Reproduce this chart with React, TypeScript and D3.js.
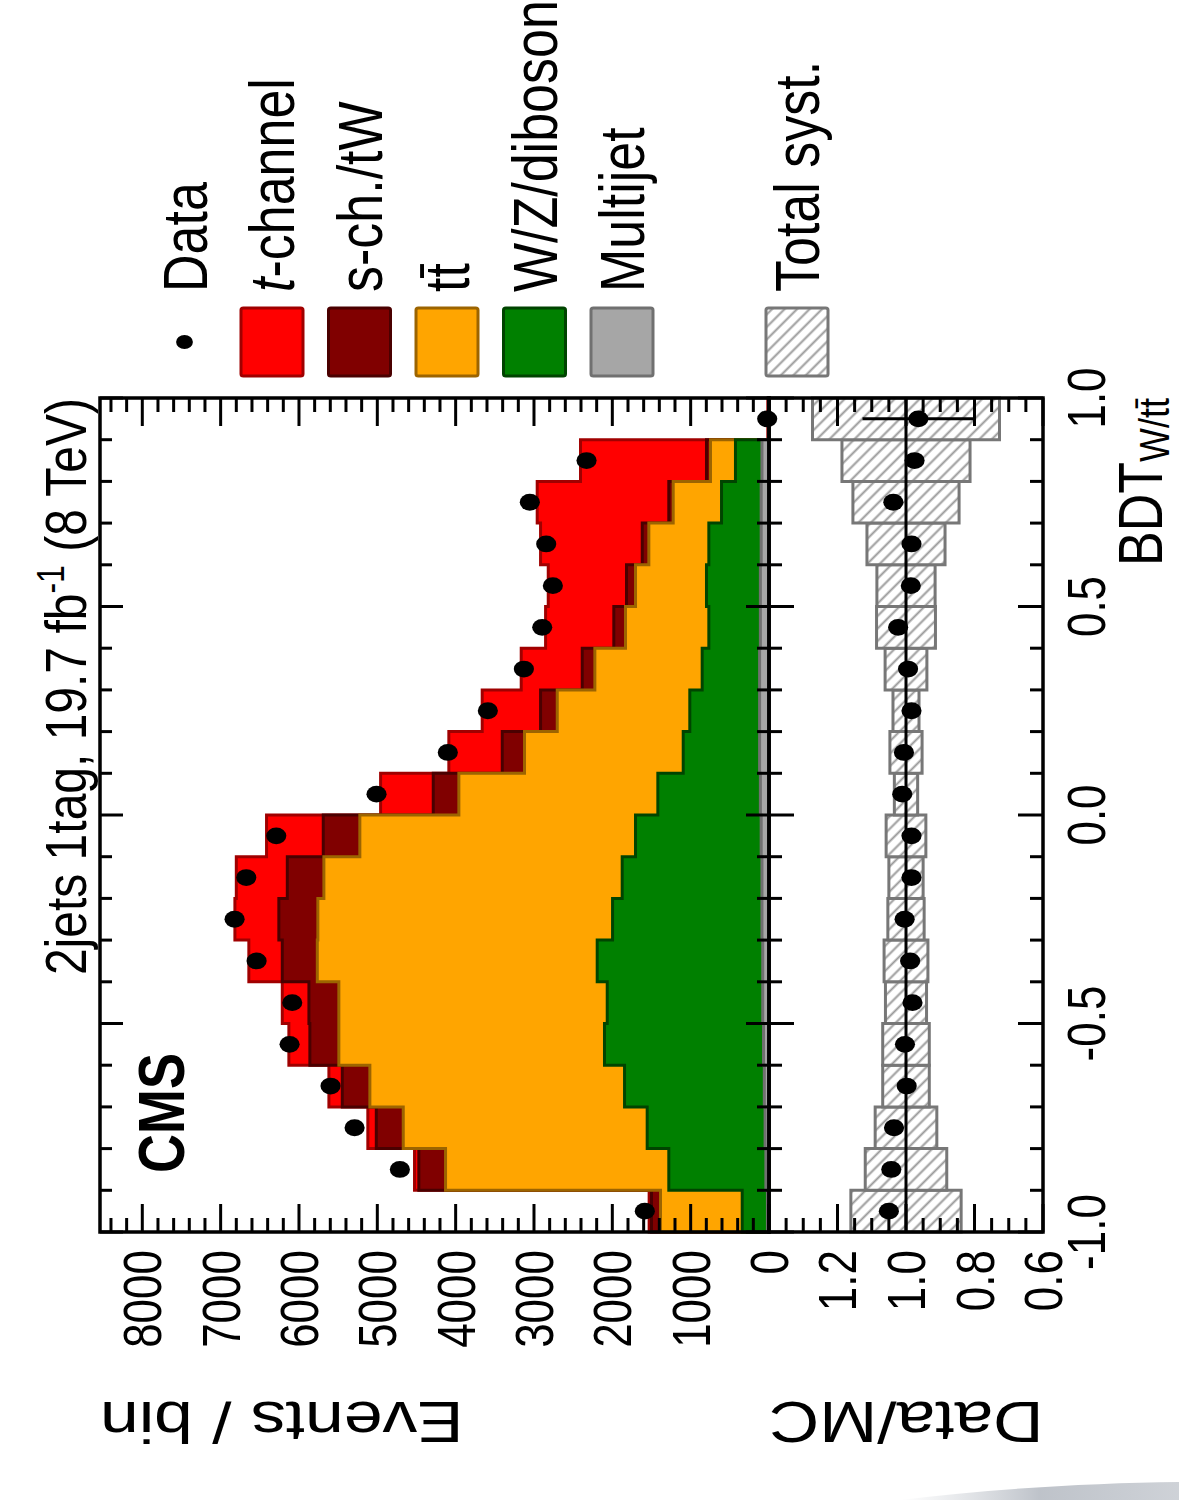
import * as d3 from "d3";

// the figure is drawn as the original (unrotated) plot, then turned -90deg.
// the picture is also stretched ~1.2x across the page width
const SX = 1.2;

const bdtEdges = d3.range(21).map((i) => -1 + i * 0.1);

// events / bin, from BDT = -1.0 up to 1.0
const dataEvents = [1585, 4712, 5290, 5597, 6120, 6086, 6541, 6822, 6673, 6290, 5010, 4100, 3589, 3129, 2895, 2759, 2844, 3053, 2329, 23];
const tChannel = [30, 55, 108, 171, 268, 340, 427, 561, 651, 724, 672, 682, 745, 779, 871, 999, 1298, 1680, 1608, 9];
const sChTW = [115, 341, 344, 352, 370, 382, 447, 498, 467, 467, 327, 284, 213, 161, 149, 115, 84, 56, 51, 2];
const ttbar = [1043, 2850, 3114, 3251, 3391, 3426, 3573, 3762, 3808, 3519, 2540, 2026, 1692, 1370, 1064, 906, 766, 617, 319, 2];
const wzDiboson = [322, 1239, 1505, 1784, 2030, 1985, 2113, 1907, 1784, 1604, 1309, 975, 891, 733, 658, 688, 668, 506, 338, 1];
const multijet = [20, 40, 50, 60, 70, 80, 80, 90, 90, 100, 110, 120, 120, 120, 110, 110, 100, 100, 90, 1];

// Data/MC panel
const ratio = [1.05, 1.043, 1.035, 0.998, 1.003, 0.981, 0.988, 1.004, 0.984, 0.984, 1.011, 1.006, 0.984, 0.994, 1.023, 0.986, 0.984, 1.037, 0.975, 0.964];
const ratioErr = [0.026, 0.015, 0.014, 0.013, 0.013, 0.013, 0.012, 0.012, 0.012, 0.013, 0.014, 0.016, 0.017, 0.018, 0.019, 0.019, 0.019, 0.018, 0.021, 0.163];
const systErr = [0.161, 0.119, 0.09, 0.068, 0.068, 0.06, 0.064, 0.053, 0.05, 0.058, 0.034, 0.047, 0.038, 0.061, 0.086, 0.085, 0.114, 0.155, 0.187, 0.273];

const eventTicks = [0, 1000, 2000, 3000, 4000, 5000, 6000, 7000, 8000];
const ratioTicks = [0.6, 0.8, 1.0, 1.2];
const bdtTicks = [-1, -0.5, 0, 0.5, 1];
const bdtTickLabels = ["-1.0", "-0.5", "0.0", "0.5", "1.0"];

const stackKeys = ["multijet", "wz", "ttbar", "sch", "tch"];
const colors: Record<string, { fill: string; stroke: string }> = {
  tch: { fill: "#ff0000", stroke: "#a00000" },
  sch: { fill: "#800000", stroke: "#4a0000" },
  ttbar: { fill: "#ffa500", stroke: "#9c6400" },
  wz: { fill: "#008000", stroke: "#004400" },
  multijet: { fill: "#a6a6a6", stroke: "#707070" },
};

const FONT = "'Liberation Sans', Arial, Helvetica, sans-serif";
const NS = "non-scaling-stroke";

const App = () => {
  // u: along the BDT axis, v: along the events axis (before rotation)
  const u = d3.scaleLinear().domain([-1, 1]).range([268, 1102]);
  const vEv = d3.scaleLinear().domain([0, 8540]).range([769 / SX, 100 / SX]);
  const vRat = d3.scaleLinear().domain([0.6, 1.4]).range([1043 / SX, 769 / SX]);

  const table = tChannel.map((_, i) => ({
    multijet: multijet[i],
    wz: wzDiboson[i],
    ttbar: ttbar[i],
    sch: sChTW[i],
    tch: tChannel[i],
  }));
  const series = d3.stack<any>().keys(stackKeys)(table);

  const area = d3
    .area<any>()
    .x((_, i) => u(bdtEdges[i]))
    .y0(vEv(0))
    .y1((d) => vEv(d[1]))
    .curve(d3.curveStepAfter);

  const bdtMinor = d3.range(21).map((i) => -1 + i * 0.1);
  const isBdtMajor = (b: number) => Math.abs(b * 2 - Math.round(b * 2)) < 1e-6;
  const evMinor = d3.range(0, 8541, 200);
  const ratMinor = d3.range(17).map((i) => 0.6 + i * 0.05);
  const isRatMajor = (r: number) => Math.abs((r - 0.6) / 0.2 - Math.round((r - 0.6) / 0.2)) < 1e-6;

  const tick = { stroke: "#000", strokeWidth: 3, vectorEffect: NS } as any;

  const legendRows = [184.5, 272, 359.5, 447, 534.5, 622, 797];

  return (
    <svg
      width={1179}
      height={1500}
      style={{ position: "absolute", left: 0, top: 0, background: "#fff" }}
      fontFamily={FONT}
    >
      <defs>
        <pattern
          id="hatch"
          patternUnits="userSpaceOnUse"
          width={8}
          height={8}
          patternTransform="rotate(39.8)"
        >
          <rect width={8} height={8} fill="#fff" />
          <line x1={0} y1={4} x2={8} y2={4} stroke="#9a9a9a" strokeWidth={1.8} vectorEffect={NS} />
        </pattern>
        <linearGradient id="curl" x1="0" x2="1" y1="0" y2="0">
          <stop offset="0" stopColor="#c4c9d0" stopOpacity={0} />
          <stop offset="0.5" stopColor="#b7bcc4" stopOpacity={0.9} />
          <stop offset="1" stopColor="#c9cdd3" stopOpacity={0.9} />
        </linearGradient>
      </defs>

      <g transform={`translate(0,1500) rotate(-90) scale(1,${SX})`}>
        {/* stacked histograms, outermost first */}
        {series
          .slice()
          .reverse()
          .map((s) => (
            <path
              key={s.key}
              d={area([...s, s[s.length - 1]]) || ""}
              fill={colors[s.key].fill}
              stroke={colors[s.key].stroke}
              strokeWidth={3}
              vectorEffect={NS}
            />
          ))}

        {/* data */}
        {dataEvents.map((d, i) => (
          <circle key={i} cx={u(bdtEdges[i] + 0.05)} cy={vEv(d)} r={8.4} fill="#000" />
        ))}

        {/* systematic band in ratio panel */}
        {systErr.map((e, i) => (
          <rect
            key={i}
            x={u(bdtEdges[i])}
            width={u(bdtEdges[i + 1]) - u(bdtEdges[i])}
            y={vRat(1 + e)}
            height={vRat(1 - e) - vRat(1 + e)}
            fill="url(#hatch)"
            stroke="#777"
            strokeWidth={3}
            vectorEffect={NS}
          />
        ))}
        <line x1={u(-1)} x2={u(1)} y1={vRat(1)} y2={vRat(1)} stroke="#000" strokeWidth={3} vectorEffect={NS} />
        {ratio.map((r, i) => (
          <g key={i}>
            <line
              x1={u(bdtEdges[i] + 0.05)}
              x2={u(bdtEdges[i] + 0.05)}
              y1={vRat(r - ratioErr[i])}
              y2={vRat(r + ratioErr[i])}
              stroke="#000"
              strokeWidth={3}
              vectorEffect={NS}
            />
            <circle cx={u(bdtEdges[i] + 0.05)} cy={vRat(r)} r={8.4} fill="#000" />
          </g>
        ))}

        {/* ticks: upper panel */}
        {evMinor.map((t) => {
          const len = t % 1000 === 0 ? 28 : 14;
          return (
            <g key={"ev" + t}>
              <line x1={u(-1)} x2={u(-1) + len} y1={vEv(t)} y2={vEv(t)} {...tick} />
              <line x1={u(1)} x2={u(1) - len} y1={vEv(t)} y2={vEv(t)} {...tick} />
            </g>
          );
        })}
        {bdtMinor.map((b) => {
          const len = (isBdtMajor(b) ? 23 : 12) / SX;
          const len2 = (isBdtMajor(b) ? 25 : 13) / SX;
          return (
            <g key={"bdt" + b}>
              <line x1={u(b)} x2={u(b)} y1={vEv(8540)} y2={vEv(8540) + len} {...tick} />
              <line x1={u(b)} x2={u(b)} y1={vEv(0)} y2={vEv(0) - len} {...tick} />
              <line x1={u(b)} x2={u(b)} y1={vRat(1.4)} y2={vRat(1.4) + len2} {...tick} />
              <line x1={u(b)} x2={u(b)} y1={vRat(0.6)} y2={vRat(0.6) - len2} {...tick} />
            </g>
          );
        })}
        {ratMinor.map((r) => {
          const len = isRatMajor(r) ? 28 : 14;
          return (
            <g key={"rat" + r}>
              <line x1={u(-1)} x2={u(-1) + len} y1={vRat(r)} y2={vRat(r)} {...tick} />
              <line x1={u(1)} x2={u(1) - len} y1={vRat(r)} y2={vRat(r)} {...tick} />
            </g>
          );
        })}

        {/* frames */}
        <rect
          x={u(-1)}
          y={vEv(8540)}
          width={u(1) - u(-1)}
          height={vEv(0) - vEv(8540)}
          fill="none"
          stroke="#000"
          strokeWidth={3.5}
          vectorEffect={NS}
        />
        <rect
          x={u(-1)}
          y={vRat(1.4)}
          width={u(1) - u(-1)}
          height={vRat(0.6) - vRat(1.4)}
          fill="none"
          stroke="#000"
          strokeWidth={3.5}
          vectorEffect={NS}
        />

        {/* tick labels */}
        {eventTicks.map((t) => (
          <text key={"evl" + t} x={250} y={vEv(t)} dy="0.36em" textAnchor="end" fontSize={44}>
            {String(t)}
          </text>
        ))}
        {ratioTicks.map((t) => (
          <text key={"ratl" + t} x={250} y={vRat(t)} dy="0.36em" textAnchor="end" fontSize={44}>
            {t.toFixed(1)}
          </text>
        ))}
        {bdtTicks.map((b, i) => (
          <text key={"bdtl" + b} x={u(b)} y={1105 / SX} textAnchor="middle" fontSize={44}>
            {bdtTickLabels[i]}
          </text>
        ))}

        {/* axis titles */}
        <text transform={`translate(98,${vEv(8540)}) rotate(-90)`} textAnchor="end" fontSize={58}>
          Events / bin
        </text>
        <text transform={`translate(98,${vRat(1.4)}) rotate(-90)`} textAnchor="end" fontSize={58}>
          Data/MC
        </text>
        <text x={u(1)} y={1162 / SX} textAnchor="end" fontSize={52}>
          <tspan>BDT</tspan>
          <tspan fontSize={36} dy={6}>
            {"W/tt\u0304"}
          </tspan>
        </text>

        {/* title and label */}
        <text x={u(1)} y={86 / SX} textAnchor="end" fontSize={48}>
          <tspan>2jets 1tag, 19.7 fb</tspan>
          <tspan fontSize={32} dy={-18}>
            -1
          </tspan>
          <tspan dy={18}>{" (8 TeV)"}</tspan>
        </text>
        <text x={327} y={184 / SX} fontSize={54} fontWeight="bold">
          CMS
        </text>

        {/* legend */}
        <circle cx={1158} cy={legendRows[0] / SX} r={7} fill="#000" />
        {["tch", "sch", "ttbar", "wz", "multijet"].map((k, i) => (
          <rect
            key={"lg" + k}
            x={1124}
            y={(legendRows[i + 1] - 31) / SX}
            width={68}
            height={62 / SX}
            rx={2}
            fill={colors[k].fill}
            stroke={colors[k].stroke}
            strokeWidth={3}
            vectorEffect={NS}
          />
        ))}
        <rect
          x={1124}
          y={(legendRows[6] - 31) / SX}
          width={68}
          height={62 / SX}
          rx={2}
          fill="url(#hatch)"
          stroke="#777"
          strokeWidth={3}
          vectorEffect={NS}
        />
        <g fontSize={52}>
          <text x={1208} y={legendRows[0] / SX} dy="0.36em">
            Data
          </text>
          <text x={1208} y={legendRows[1] / SX} dy="0.36em">
            <tspan fontStyle="italic">t</tspan>
            <tspan>-channel</tspan>
          </text>
          <text x={1208} y={legendRows[2] / SX} dy="0.36em">
            s-ch./tW
          </text>
          <text x={1208} y={legendRows[3] / SX} dy="0.36em">
            {"tt\u0304"}
          </text>
          <text x={1208} y={legendRows[4] / SX} dy="0.36em">
            W/Z/diboson
          </text>
          <text x={1208} y={legendRows[5] / SX} dy="0.36em">
            Multijet
          </text>
          <text x={1208} y={legendRows[6] / SX} dy="0.36em">
            Total syst.
          </text>
        </g>
      </g>

      {/* page curl at the bottom edge */}
      <path d="M 900 1500 C 990 1489, 1090 1483, 1179 1482 L 1179 1500 Z" fill="url(#curl)" />
    </svg>
  );
};

export default App;
